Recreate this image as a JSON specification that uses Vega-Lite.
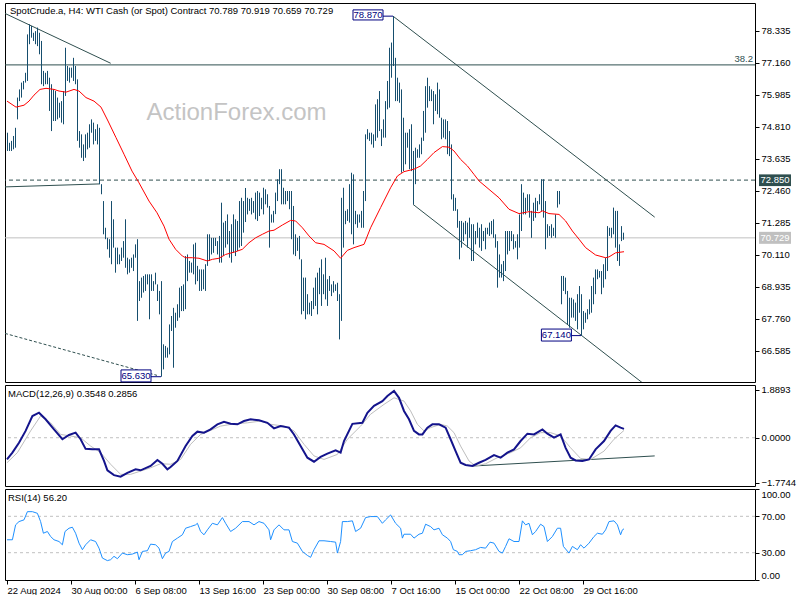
{
"$schema": "https://vega.github.io/schema/vega-lite/v6.json",
"padding": {"left": 2, "top": 2, "right": 0, "bottom": 0},
"background": "white",
"spacing": 3,
"bounds": "flush",
"config": {
  "view": {"stroke": "#000000", "strokeWidth": 1},
  "font": "Liberation Sans",
  "axis": {"domain": false, "grid": false, "labelFont": "Liberation Sans", "labelFontSize": 9.5, "labelColor": "#000000", "tickColor": "#000000", "tickSize": 4, "labelPadding": 2, "labelOverlap": false, "labelSeparation": 0}
},
"datasets": {
  "bars": [
{"k":0,"h":74.59,"l":73.92},{"k":1,"h":74.22,"l":73.92},{"k":2,"h":74.29,"l":73.92},{"k":3,"h":74.47,"l":73.98},{"k":4,"h":74.77,"l":74.04},
{"k":5,"h":75.88,"l":75.08},{"k":6,"h":76.18,"l":75.75},{"k":7,"h":76.43,"l":75.88},{"k":8,"h":76.49,"l":76.18},{"k":9,"h":76.79,"l":76.43},
{"k":10,"h":78.20,"l":76.49},{"k":11,"h":78.57,"l":77.84},{"k":12,"h":78.51,"l":78.08},{"k":13,"h":78.26,"l":77.96},{"k":14,"h":78.32,"l":77.84},
{"k":15,"h":78.45,"l":77.77},{"k":16,"h":78.26,"l":77.47},{"k":17,"h":77.96,"l":76.37},{"k":18,"h":76.86,"l":76.30},{"k":19,"h":76.79,"l":76.37},
{"k":20,"h":76.86,"l":76.37},{"k":21,"h":76.61,"l":75.39},{"k":22,"h":76.37,"l":74.65},{"k":23,"h":76.18,"l":75.02},{"k":24,"h":76.12,"l":75.02},
{"k":25,"h":75.88,"l":75.08},{"k":26,"h":75.69,"l":75.14},{"k":27,"h":75.75,"l":74.96},{"k":28,"h":76.12,"l":74.90},{"k":29,"h":77.71,"l":75.94},
{"k":30,"h":77.04,"l":76.49},{"k":31,"h":76.98,"l":76.43},{"k":32,"h":76.98,"l":76.61},{"k":33,"h":77.34,"l":76.49},{"k":34,"h":77.04,"l":76.37},
{"k":35,"h":76.55,"l":74.29},{"k":36,"h":74.65,"l":74.04},{"k":37,"h":74.53,"l":73.67},{"k":38,"h":74.16,"l":73.55},{"k":39,"h":74.53,"l":73.67},
{"k":40,"h":74.59,"l":73.98},{"k":41,"h":74.90,"l":74.04},{"k":42,"h":75.08,"l":74.59},{"k":43,"h":74.96,"l":74.16},{"k":44,"h":74.72,"l":74.29},
{"k":45,"h":74.90,"l":74.16},{"k":46,"h":74.77,"l":72.70},{"k":47,"h":72.70,"l":72.33},{"k":48,"h":72.08,"l":70.86},{"k":49,"h":71.10,"l":70.68},
{"k":50,"h":70.73,"l":70.31},{"k":51,"h":70.68,"l":70.00},{"k":52,"h":72.08,"l":69.76},{"k":53,"h":71.41,"l":70.37},{"k":54,"h":70.37,"l":69.45},
{"k":55,"h":70.37,"l":69.76},{"k":56,"h":70.12,"l":69.76},{"k":57,"h":70.37,"l":69.88},{"k":58,"h":70.61,"l":70.00},{"k":59,"h":71.41,"l":69.63},
{"k":60,"h":70.00,"l":69.39},{"k":61,"h":69.94,"l":69.45},{"k":62,"h":70.00,"l":69.63},{"k":63,"h":70.12,"l":69.51},{"k":64,"h":70.49,"l":70.00},
{"k":65,"h":70.68,"l":67.68},{"k":66,"h":69.14,"l":68.41},{"k":67,"h":69.27,"l":68.53},{"k":68,"h":69.33,"l":68.72},{"k":69,"h":69.39,"l":68.78},
{"k":70,"h":69.39,"l":69.02},{"k":71,"h":69.39,"l":67.74},{"k":72,"h":69.39,"l":68.78},{"k":73,"h":69.14,"l":68.78},{"k":74,"h":69.45,"l":69.02},
{"k":75,"h":69.02,"l":68.41},{"k":76,"h":68.78,"l":67.92},{"k":77,"h":69.14,"l":65.63},{"k":78,"h":66.82,"l":65.90},{"k":79,"h":66.76,"l":66.33},
{"k":80,"h":66.70,"l":66.33},{"k":81,"h":67.55,"l":66.45},{"k":82,"h":67.86,"l":67.31},{"k":83,"h":68.16,"l":65.96},{"k":84,"h":67.98,"l":67.43},
{"k":85,"h":68.29,"l":67.68},{"k":86,"h":68.90,"l":67.80},{"k":87,"h":68.96,"l":68.04},{"k":88,"h":69.02,"l":68.04},{"k":89,"h":70.06,"l":68.11},
{"k":90,"h":70.12,"l":69.14},{"k":91,"h":69.88,"l":69.45},{"k":92,"h":69.82,"l":69.45},{"k":93,"h":70.49,"l":69.39},{"k":94,"h":70.55,"l":69.02},
{"k":95,"h":69.70,"l":69.14},{"k":96,"h":69.57,"l":68.78},{"k":97,"h":69.57,"l":68.78},{"k":98,"h":69.57,"l":68.84},{"k":99,"h":69.76,"l":68.78},
{"k":100,"h":70.86,"l":69.70},{"k":101,"h":70.86,"l":69.88},{"k":102,"h":70.73,"l":70.12},{"k":103,"h":70.73,"l":70.18},{"k":104,"h":70.73,"l":70.43},
{"k":105,"h":70.61,"l":70.12},{"k":106,"h":70.80,"l":69.82},{"k":107,"h":72.02,"l":69.82},{"k":108,"h":71.29,"l":70.06},{"k":109,"h":71.35,"l":70.37},
{"k":110,"h":71.59,"l":70.49},{"k":111,"h":70.98,"l":70.00},{"k":112,"h":71.23,"l":69.82},{"k":113,"h":71.59,"l":70.18},{"k":114,"h":71.41,"l":70.06},
{"k":115,"h":71.35,"l":70.25},{"k":116,"h":72.08,"l":70.37},{"k":117,"h":72.20,"l":70.43},{"k":118,"h":72.08,"l":70.92},{"k":119,"h":72.56,"l":71.31},
{"k":120,"h":72.20,"l":71.59},{"k":121,"h":72.16,"l":71.72},{"k":122,"h":72.20,"l":71.59},{"k":123,"h":72.08,"l":71.65},{"k":124,"h":72.39,"l":71.41},
{"k":125,"h":72.45,"l":71.35},{"k":126,"h":72.39,"l":71.53},{"k":127,"h":72.20,"l":71.78},{"k":128,"h":72.57,"l":71.59},{"k":129,"h":72.51,"l":71.96},
{"k":130,"h":72.33,"l":71.84},{"k":131,"h":71.90,"l":70.37},{"k":132,"h":71.59,"l":71.29},{"k":133,"h":71.72,"l":71.29},{"k":134,"h":72.39,"l":71.60},
{"k":135,"h":72.88,"l":72.08},{"k":136,"h":73.25,"l":72.70},{"k":137,"h":73.25,"l":71.96},{"k":138,"h":72.57,"l":71.96},{"k":139,"h":72.45,"l":71.96},
{"k":140,"h":72.45,"l":72.08},{"k":141,"h":72.45,"l":71.78},{"k":142,"h":72.45,"l":70.68},{"k":143,"h":71.90,"l":70.12},{"k":144,"h":70.86,"l":70.06},
{"k":145,"h":70.73,"l":70.25},{"k":146,"h":70.80,"l":69.94},{"k":147,"h":69.94,"l":67.92},{"k":148,"h":69.27,"l":68.04},{"k":149,"h":69.27,"l":67.74},
{"k":150,"h":68.66,"l":67.92},{"k":151,"h":68.35,"l":67.92},{"k":152,"h":68.41,"l":67.86},{"k":153,"h":68.90,"l":68.11},{"k":154,"h":69.27,"l":68.23},
{"k":155,"h":69.45,"l":67.92},{"k":156,"h":69.63,"l":68.66},{"k":157,"h":69.94,"l":68.23},{"k":158,"h":69.39,"l":68.66},{"k":159,"h":70.00,"l":68.47},
{"k":160,"h":69.21,"l":68.23},{"k":161,"h":69.33,"l":68.78},{"k":162,"h":69.02,"l":68.59},{"k":163,"h":69.14,"l":68.72},{"k":164,"h":69.02,"l":68.78},
{"k":165,"h":69.08,"l":68.41},{"k":166,"h":68.66,"l":67.00},{"k":167,"h":72.20,"l":67.68},{"k":168,"h":72.57,"l":70.37},{"k":169,"h":71.72,"l":71.23},
{"k":170,"h":71.78,"l":71.35},{"k":171,"h":72.70,"l":71.29},{"k":172,"h":73.12,"l":70.86},{"k":173,"h":73.06,"l":70.49},{"k":174,"h":71.72,"l":71.23},
{"k":175,"h":71.59,"l":71.10},{"k":176,"h":71.59,"l":71.29},{"k":177,"h":71.72,"l":71.10},{"k":178,"h":72.45,"l":71.10},{"k":179,"h":74.53,"l":72.08},
{"k":180,"h":74.72,"l":74.35},{"k":181,"h":74.59,"l":74.29},{"k":182,"h":74.59,"l":74.16},{"k":183,"h":74.53,"l":74.04},{"k":184,"h":75.63,"l":74.29},
{"k":185,"h":75.82,"l":74.41},{"k":186,"h":76.12,"l":74.65},{"k":187,"h":74.72,"l":74.10},{"k":188,"h":75.08,"l":74.41},{"k":189,"h":75.75,"l":74.41},
{"k":190,"h":76.49,"l":75.45},{"k":191,"h":77.71,"l":75.51},{"k":192,"h":77.90,"l":76.61},{"k":193,"h":78.87,"l":77.04},{"k":194,"h":77.34,"l":75.75},
{"k":195,"h":76.61,"l":75.75},{"k":196,"h":76.43,"l":75.69},{"k":197,"h":76.18,"l":73.12},{"k":198,"h":75.14,"l":73.18},{"k":199,"h":74.59,"l":73.43},
{"k":200,"h":74.59,"l":74.04},{"k":201,"h":74.72,"l":73.25},{"k":202,"h":74.90,"l":73.18},{"k":203,"h":73.92,"l":71.96},{"k":204,"h":74.04,"l":72.70},
{"k":205,"h":73.98,"l":73.67},{"k":206,"h":74.16,"l":73.67},{"k":207,"h":74.41,"l":73.80},{"k":208,"h":75.39,"l":74.29},{"k":209,"h":76.30,"l":74.59},
{"k":210,"h":76.61,"l":75.51},{"k":211,"h":76.30,"l":75.75},{"k":212,"h":76.18,"l":75.75},{"k":213,"h":76.12,"l":74.90},{"k":214,"h":76.00,"l":75.39},
{"k":215,"h":76.43,"l":75.27},{"k":216,"h":76.18,"l":75.14},{"k":217,"h":75.14,"l":74.35},{"k":218,"h":75.08,"l":74.41},{"k":219,"h":75.08,"l":74.35},
{"k":220,"h":75.02,"l":73.80},{"k":221,"h":74.65,"l":73.73},{"k":222,"h":74.16,"l":72.14},{"k":223,"h":72.33,"l":71.72},{"k":224,"h":72.20,"l":71.72},
{"k":225,"h":71.78,"l":71.10},{"k":226,"h":71.35,"l":69.94},{"k":227,"h":71.35,"l":70.37},{"k":228,"h":71.29,"l":70.61},{"k":229,"h":71.35,"l":70.86},
{"k":230,"h":71.29,"l":70.37},{"k":231,"h":71.47,"l":70.73},{"k":232,"h":71.23,"l":69.88},{"k":233,"h":71.23,"l":69.88},{"k":234,"h":70.98,"l":70.49},
{"k":235,"h":71.29,"l":70.73},{"k":236,"h":71.10,"l":70.37},{"k":237,"h":71.23,"l":70.25},{"k":238,"h":70.98,"l":70.61},{"k":239,"h":71.10,"l":70.31},
{"k":240,"h":71.10,"l":70.86},{"k":241,"h":71.29,"l":70.80},{"k":242,"h":71.35,"l":70.86},{"k":243,"h":71.41,"l":70.73},{"k":244,"h":70.86,"l":70.37},
{"k":245,"h":70.61,"l":68.90},{"k":246,"h":70.12,"l":69.27},{"k":247,"h":69.76,"l":69.27},{"k":248,"h":69.88,"l":69.14},{"k":249,"h":70.98,"l":69.51},
{"k":250,"h":70.98,"l":70.12},{"k":251,"h":70.98,"l":70.25},{"k":252,"h":70.98,"l":70.61},{"k":253,"h":70.86,"l":70.31},{"k":254,"h":70.61,"l":70.37},
{"k":255,"h":70.86,"l":69.94},{"k":256,"h":71.59,"l":70.37},{"k":257,"h":72.70,"l":70.98},{"k":258,"h":72.39,"l":71.59},{"k":259,"h":72.20,"l":71.59},
{"k":260,"h":72.33,"l":71.72},{"k":261,"h":72.33,"l":71.47},{"k":262,"h":71.72,"l":70.73},{"k":263,"h":72.02,"l":71.35},{"k":264,"h":72.20,"l":71.47},
{"k":265,"h":72.08,"l":71.72},{"k":266,"h":72.33,"l":71.96},{"k":267,"h":72.88,"l":71.72},{"k":268,"h":72.88,"l":71.47},{"k":269,"h":72.08,"l":70.31},
{"k":270,"h":71.23,"l":70.73},{"k":271,"h":71.16,"l":70.80},{"k":272,"h":71.23,"l":70.73},{"k":273,"h":71.10,"l":70.80},{"k":274,"h":71.59,"l":70.73},
{"k":275,"h":72.45,"l":71.84},{"k":276,"h":72.45,"l":71.96},{"k":277,"h":69.33,"l":68.29},{"k":278,"h":69.33,"l":68.78},{"k":279,"h":69.27,"l":68.66},
{"k":280,"h":68.78,"l":67.55},{"k":281,"h":68.53,"l":67.43},{"k":282,"h":68.53,"l":67.80},{"k":283,"h":68.47,"l":67.80},{"k":284,"h":68.35,"l":67.68},
{"k":285,"h":68.66,"l":67.37},{"k":286,"h":68.96,"l":67.98},{"k":287,"h":68.66,"l":67.14},{"k":288,"h":68.04,"l":67.37},{"k":289,"h":67.98,"l":67.61},
{"k":290,"h":68.11,"l":67.74},{"k":291,"h":68.47,"l":67.92},{"k":292,"h":68.96,"l":67.98},{"k":293,"h":69.27,"l":68.29},{"k":294,"h":69.57,"l":68.66},
{"k":295,"h":69.57,"l":69.21},{"k":296,"h":69.51,"l":69.27},{"k":297,"h":69.51,"l":68.66},{"k":298,"h":69.76,"l":68.90},{"k":299,"h":70.00,"l":69.21},
{"k":300,"h":71.16,"l":69.51},{"k":301,"h":71.10,"l":70.80},{"k":302,"h":71.10,"l":70.73},{"k":303,"h":71.84,"l":70.86},{"k":304,"h":71.72,"l":70.37},
{"k":305,"h":71.72,"l":69.88},{"k":306,"h":70.49,"l":69.70},{"k":307,"h":71.16,"l":70.61},{"k":308,"h":70.919,"l":70.659}
  ],
  "ma": [
{"k":0,"v":75.75},{"k":4.5,"v":75.53},{"k":8.5,"v":75.60},{"k":11,"v":75.75},{"k":13.5,"v":75.97},{"k":16.5,"v":76.18},{"k":19.5,"v":76.22},{"k":23.5,"v":76.18},{"k":26,"v":76.12},{"k":29.5,"v":76.08},{"k":33.5,"v":76.18},{"k":36,"v":76.12},{"k":39.5,"v":75.88},{"k":43.5,"v":75.75},{"k":47,"v":75.53},{"k":50.5,"v":75.02},{"k":54.5,"v":74.41},{"k":58.5,"v":73.80},{"k":62.5,"v":73.18},{"k":66,"v":72.75},{"k":71,"v":72.08},{"k":75,"v":71.65},{"k":78.5,"v":71.16},{"k":81,"v":70.68},{"k":84.3,"v":70.31},{"k":87.7,"v":70.06},{"k":89.3,"v":70.00},{"k":92.7,"v":70.00},{"k":96,"v":69.98},{"k":100.2,"v":69.88},{"k":102.7,"v":69.94},{"k":106,"v":69.98},{"k":109.3,"v":70.12},{"k":114.3,"v":70.22},{"k":117.7,"v":70.31},{"k":121,"v":70.55},{"k":124.3,"v":70.73},{"k":127.7,"v":70.86},{"k":131,"v":70.98},{"k":133.5,"v":71.01},{"k":137.7,"v":71.20},{"k":141.8,"v":71.37},{"k":144.3,"v":71.35},{"k":147.7,"v":71.10},{"k":151,"v":70.80},{"k":154.3,"v":70.55},{"k":158.5,"v":70.49},{"k":163.5,"v":70.25},{"k":166.8,"v":69.98},{"k":170.2,"v":70.27},{"k":173.5,"v":70.37},{"k":178.5,"v":70.49},{"k":181.8,"v":71.10},{"k":186.8,"v":71.84},{"k":191.8,"v":72.57},{"k":195.2,"v":73.00},{"k":198.5,"v":73.16},{"k":203.5,"v":73.25},{"k":206.8,"v":73.37},{"k":210.2,"v":73.61},{"k":213.5,"v":73.86},{"k":217.7,"v":74.08},{"k":221,"v":74.06},{"k":223.5,"v":73.92},{"k":226.8,"v":73.61},{"k":230.2,"v":73.37},{"k":233.5,"v":73.06},{"k":236,"v":72.82},{"k":241,"v":72.51},{"k":246,"v":72.20},{"k":251,"v":71.78},{"k":256,"v":71.62},{"k":261,"v":71.69},{"k":266,"v":71.65},{"k":267.7,"v":71.72},{"k":271,"v":71.62},{"k":276,"v":71.59},{"k":279.3,"v":71.35},{"k":282.7,"v":70.98},{"k":286,"v":70.68},{"k":289.3,"v":70.37},{"k":294.3,"v":70.10},{"k":299.3,"v":70.00},{"k":301,"v":70.03},{"k":304.3,"v":70.18},{"k":308.5,"v":70.22}
  ],
  "macd": [
{"k":0,"m":-0.86},{"k":2.7,"m":-0.59},{"k":6,"m":-0.20},{"k":9.3,"m":0.27},{"k":12.7,"m":0.86},{"k":16,"m":0.99},{"k":19.3,"m":0.73},{"k":23.5,"m":0.33},{"k":27.7,"m":-0.06},{"k":31,"m":0.11},{"k":34.3,"m":0.20},{"k":36.8,"m":-0.06},{"k":39.3,"m":-0.44},{"k":42.7,"m":-0.46},{"k":46,"m":-0.46},{"k":48.5,"m":-0.92},{"k":50.2,"m":-1.29},{"k":53.5,"m":-1.48},{"k":56.8,"m":-1.54},{"k":60.2,"m":-1.39},{"k":64.3,"m":-1.25},{"k":66.8,"m":-1.29},{"k":71.8,"m":-1.12},{"k":75.2,"m":-0.88},{"k":77.7,"m":-1.03},{"k":80.2,"m":-1.25},{"k":81.8,"m":-1.16},{"k":85.2,"m":-0.92},{"k":89.3,"m":-0.33},{"k":92.7,"m":0.07},{"k":95.2,"m":0.24},{"k":98.5,"m":0.20},{"k":101.8,"m":0.33},{"k":105.2,"m":0.53},{"k":108.5,"m":0.63},{"k":111.8,"m":0.55},{"k":115.2,"m":0.53},{"k":118.5,"m":0.66},{"k":121.8,"m":0.73},{"k":126,"m":0.69},{"k":130.2,"m":0.59},{"k":133.5,"m":0.37},{"k":136.8,"m":0.46},{"k":141,"m":0.40},{"k":143.5,"m":0.13},{"k":146.8,"m":-0.33},{"k":150.2,"m":-0.79},{"k":153.5,"m":-0.95},{"k":156.8,"m":-0.76},{"k":160.2,"m":-0.63},{"k":164.3,"m":-0.50},{"k":166.8,"m":-0.59},{"k":168.5,"m":-0.13},{"k":172.7,"m":0.55},{"k":177.7,"m":0.59},{"k":180.2,"m":0.99},{"k":183.5,"m":1.26},{"k":187.7,"m":1.45},{"k":190.2,"m":1.65},{"k":193.5,"m":1.85},{"k":196,"m":1.58},{"k":198.5,"m":1.06},{"k":201,"m":0.73},{"k":203.5,"m":0.27},{"k":206,"m":0.13},{"k":207.7,"m":0.13},{"k":210.2,"m":0.40},{"k":212.7,"m":0.53},{"k":216,"m":0.53},{"k":219.3,"m":0.40},{"k":221.8,"m":-0.06},{"k":224.3,"m":-0.53},{"k":226.8,"m":-0.99},{"k":229.3,"m":-1.08},{"k":232.7,"m":-1.12},{"k":236,"m":-0.99},{"k":239.3,"m":-0.88},{"k":243.5,"m":-0.69},{"k":246.8,"m":-0.79},{"k":250.2,"m":-0.59},{"k":253.5,"m":-0.46},{"k":256.8,"m":-0.13},{"k":260.2,"m":0.16},{"k":263.5,"m":0.13},{"k":267.7,"m":0.33},{"k":270.2,"m":0.16},{"k":273.5,"m":0.00},{"k":276.8,"m":0.13},{"k":279.3,"m":-0.40},{"k":281.8,"m":-0.79},{"k":284.3,"m":-0.90},{"k":287.7,"m":-0.92},{"k":291,"m":-0.86},{"k":294.3,"m":-0.46},{"k":298.5,"m":-0.13},{"k":301.8,"m":0.27},{"k":304.3,"m":0.49},{"k":306.8,"m":0.40},{"k":308.5,"m":0.35}
  ],
  "signal": [
{"k":0,"s":-0.99},{"k":5.2,"s":-0.59},{"k":11.8,"s":0.27},{"k":16.8,"s":0.86},{"k":21.8,"s":0.59},{"k":26.8,"s":0.13},{"k":31.8,"s":0.07},{"k":36.8,"s":0.00},{"k":41.8,"s":-0.33},{"k":46.8,"s":-0.59},{"k":51.8,"s":-1.05},{"k":56.8,"s":-1.45},{"k":61.8,"s":-1.45},{"k":66.8,"s":-1.32},{"k":71.8,"s":-1.19},{"k":76.8,"s":-1.03},{"k":81.8,"s":-1.05},{"k":86.8,"s":-0.86},{"k":91.8,"s":-0.26},{"k":96.8,"s":0.13},{"k":101.8,"s":0.29},{"k":106.8,"s":0.46},{"k":113.5,"s":0.55},{"k":120.2,"s":0.59},{"k":126.8,"s":0.66},{"k":131.8,"s":0.53},{"k":138.5,"s":0.46},{"k":143.5,"s":0.27},{"k":148.5,"s":-0.26},{"k":153.5,"s":-0.72},{"k":158.5,"s":-0.86},{"k":165.2,"s":-0.66},{"k":170.2,"s":-0.06},{"k":176.8,"s":0.46},{"k":181.8,"s":0.93},{"k":188.5,"s":1.32},{"k":193.5,"s":1.58},{"k":198.5,"s":1.45},{"k":201.8,"s":1.06},{"k":205.2,"s":0.53},{"k":208.5,"s":0.27},{"k":211.8,"s":0.40},{"k":216.8,"s":0.53},{"k":220.2,"s":0.46},{"k":223.5,"s":0.20},{"k":226.8,"s":-0.33},{"k":231,"s":-0.92},{"k":234.3,"s":-1.12},{"k":239.3,"s":-1.03},{"k":245.2,"s":-0.79},{"k":251.8,"s":-0.59},{"k":256.8,"s":-0.40},{"k":261.8,"s":0.00},{"k":266.8,"s":0.20},{"k":271.8,"s":0.20},{"k":276.8,"s":0.07},{"k":281.8,"s":-0.40},{"k":286.8,"s":-0.82},{"k":291.8,"s":-0.86},{"k":298.5,"s":-0.53},{"k":303.5,"s":-0.06},{"k":308.5,"s":0.29}
  ],
  "rsi": [
{"k":0,"r":44.2},{"k":2.7,"r":44.2},{"k":4.3,"r":60.6},{"k":6,"r":64.2},{"k":8.5,"r":66.1},{"k":10.2,"r":75.1},{"k":12.7,"r":75.1},{"k":15.2,"r":73.3},{"k":16.8,"r":64.2},{"k":18.2,"r":51.4},{"k":20.2,"r":53.3},{"k":21.8,"r":47.8},{"k":23.5,"r":44.2},{"k":26,"r":42.3},{"k":27.7,"r":38.7},{"k":29,"r":53.3},{"k":31,"r":56.9},{"k":32.7,"r":58.0},{"k":34.3,"r":51.4},{"k":36,"r":40.5},{"k":37.7,"r":33.3},{"k":39.3,"r":38.7},{"k":41.8,"r":44.2},{"k":44.3,"r":42.3},{"k":46,"r":35.0},{"k":47.7,"r":24.1},{"k":50.2,"r":21.3},{"k":51.8,"r":22.3},{"k":53.5,"r":26.0},{"k":55.2,"r":23.4},{"k":57.7,"r":29.6},{"k":60.2,"r":27.8},{"k":62.7,"r":28.5},{"k":65.2,"r":30.7},{"k":66,"r":22.3},{"k":67.7,"r":31.4},{"k":70.2,"r":32.2},{"k":71.8,"r":39.4},{"k":74.3,"r":38.7},{"k":76,"r":35.0},{"k":77.7,"r":23.4},{"k":79.3,"r":29.6},{"k":81,"r":31.4},{"k":82.7,"r":42.3},{"k":85.2,"r":46.0},{"k":87.7,"r":49.7},{"k":89.3,"r":56.9},{"k":91.8,"r":58.7},{"k":94.3,"r":60.6},{"k":95.2,"r":62.3},{"k":96.8,"r":53.3},{"k":98.5,"r":49.7},{"k":100.2,"r":55.1},{"k":102.7,"r":62.3},{"k":105.2,"r":60.6},{"k":107.7,"r":68.6},{"k":109.3,"r":62.3},{"k":111.8,"r":53.3},{"k":114.3,"r":56.9},{"k":117.7,"r":64.2},{"k":121,"r":64.2},{"k":123.5,"r":60.6},{"k":126,"r":64.2},{"k":128.5,"r":62.3},{"k":131,"r":55.1},{"k":131.8,"r":44.2},{"k":133.5,"r":55.1},{"k":136,"r":60.6},{"k":138.5,"r":55.1},{"k":141,"r":55.1},{"k":142.7,"r":42.3},{"k":145.2,"r":40.5},{"k":147.7,"r":31.4},{"k":150.2,"r":27.0},{"k":151.8,"r":24.9},{"k":153.5,"r":33.3},{"k":156,"r":43.1},{"k":158.5,"r":43.1},{"k":161.8,"r":42.3},{"k":164.3,"r":41.6},{"k":165.2,"r":29.6},{"k":166.8,"r":42.3},{"k":167.7,"r":64.2},{"k":170.2,"r":64.2},{"k":172.7,"r":65.0},{"k":174.3,"r":53.3},{"k":176.8,"r":56.9},{"k":179.3,"r":68.6},{"k":181.8,"r":69.7},{"k":185.2,"r":69.7},{"k":187.7,"r":62.3},{"k":189.3,"r":66.1},{"k":191.8,"r":71.5},{"k":194.3,"r":62.3},{"k":196.8,"r":56.9},{"k":197.7,"r":46.0},{"k":198.5,"r":50.3},{"k":201.8,"r":50.3},{"k":203.5,"r":46.0},{"k":206,"r":50.3},{"k":207.7,"r":51.4},{"k":209.3,"r":61.3},{"k":211.8,"r":58.7},{"k":213.5,"r":55.1},{"k":216,"r":56.9},{"k":217.7,"r":49.7},{"k":220.2,"r":46.0},{"k":221.8,"r":42.3},{"k":223.2,"r":33.3},{"k":225.2,"r":31.4},{"k":226,"r":27.8},{"k":227.7,"r":27.8},{"k":229.3,"r":31.4},{"k":231.8,"r":32.2},{"k":234.3,"r":33.3},{"k":236.8,"r":35.8},{"k":239.3,"r":35.0},{"k":241.5,"r":41.6},{"k":243.5,"r":40.5},{"k":246,"r":31.4},{"k":247.7,"r":29.6},{"k":249.3,"r":36.9},{"k":251,"r":45.3},{"k":253.5,"r":42.3},{"k":256,"r":42.3},{"k":257.7,"r":65.0},{"k":259.3,"r":60.6},{"k":261,"r":62.3},{"k":262.7,"r":49.7},{"k":264.3,"r":53.3},{"k":266.8,"r":61.3},{"k":268.5,"r":58.7},{"k":270.2,"r":42.3},{"k":272.7,"r":47.8},{"k":275.2,"r":56.9},{"k":276.8,"r":56.9},{"k":278.2,"r":36.9},{"k":281,"r":29.6},{"k":282.7,"r":36.9},{"k":285.2,"r":33.3},{"k":286.8,"r":38.7},{"k":288.5,"r":35.0},{"k":291,"r":40.5},{"k":293.5,"r":47.8},{"k":295.2,"r":51.4},{"k":297.7,"r":50.3},{"k":299.3,"r":55.1},{"k":301,"r":64.2},{"k":303.5,"r":65.0},{"k":305.2,"r":60.6},{"k":306.8,"r":49.7},{"k":307.7,"r":55.1},{"k":308.5,"r":56.2}
  ],
  "levels": [{"p":77.08,"g":"fib"},{"p":72.85,"g":"res"},{"p":70.729,"g":"last"}],
  "trend": [
    {"x1":-1,"y1":78.97,"x2":51.85,"y2":77.14,"d":0},
    {"x1":-1,"y1":72.60,"x2":46.35,"y2":72.71,"d":0},
    {"x1":-1,"y1":67.22,"x2":75,"y2":65.68,"d":1},
    {"x1":193,"y1":78.87,"x2":323.85,"y2":71.49,"d":0},
    {"x1":203,"y1":71.96,"x2":317.65,"y2":65.41,"d":0}
  ],
  "texts": [
    {"g":"title","k":1.5,"p":79.06,"t":"SpotCrude.a, H4:  WTI Cash (or Spot) Contract  70.789 70.919 70.659 70.729"},
    {"g":"wm","k":114.75,"p":75.04,"t":"ActionForex.com"},
    {"g":"fib","k":373,"p":77.31,"t":"38.2"}
  ],
  "boxes": [
    {"k1":173,"k2":188,"p1":78.73,"p2":79.10,"kc":180.5,"pc":78.91,"t":"78.870","c1":188,"c2":193,"cp":78.87},
    {"k1":57,"k2":72,"p1":65.44,"p2":65.88,"kc":64.5,"pc":65.66,"t":"65.630","c1":72,"c2":77,"cp":65.63},
    {"k1":267.2,"k2":282.2,"p1":66.94,"p2":67.38,"kc":274.7,"pc":67.16,"t":"67.140","c1":282.2,"c2":287,"cp":67.14}
  ],
  "tags": [
    {"k1":376,"k2":392,"p1":72.63,"p2":73.06,"kc":384,"pc":72.85,"t":"72.850","f":"#2F4F4F"},
    {"k1":376,"k2":392,"p1":70.51,"p2":70.95,"kc":384,"pc":70.73,"t":"70.729","f":"#C0C0C0"}
  ],
  "macdline": [{"x1":233,"y1":-1.12,"x2":323.85,"y2":-0.72}],
  "zero": [{"v":0}],
  "rsilev": [{"v":70},{"v":30}],
  "subtitles": [{"g":"macd","k":0.5,"v":1.73,"t":"MACD(12,26,9) 0.3548 0.2856"},{"g":"rsi","k":0.5,"v":90.4,"t":"RSI(14) 56.20"}]
},
"vconcat": [
  {
    "width": 750, "height": 379,
    "resolve": {"axis": {"x": "independent", "y": "independent"}},
    "layer": [
      {"data": {"name": "levels"}, "transform": [{"filter": "datum.g == 'fib'"}], "mark": {"type": "rule", "color": "#2F4F4F", "strokeWidth": 1}, "encoding": {"y": {"field": "p", "type": "quantitative", "axis": null}}},
      {"data": {"name": "levels"}, "transform": [{"filter": "datum.g == 'res'"}], "mark": {"type": "rule", "color": "#2F4F4F", "strokeWidth": 1, "strokeDash": [4, 3]}, "encoding": {"y": {"field": "p", "type": "quantitative", "axis": null}}},
      {"data": {"name": "levels"}, "transform": [{"filter": "datum.g == 'last'"}], "mark": {"type": "rule", "color": "#C0C0C0", "strokeWidth": 1}, "encoding": {"y": {"field": "p", "type": "quantitative", "axis": null}}},
      {"data": {"name": "trend"}, "transform": [{"filter": "datum.d == 0"}], "mark": {"type": "rule", "color": "#2F4F4F", "strokeWidth": 1, "clip": true},
       "encoding": {"x": {"field": "x1", "type": "quantitative", "axis": null}, "x2": {"field": "x2"}, "y": {"field": "y1", "type": "quantitative", "axis": null}, "y2": {"field": "y2"}}},
      {"data": {"name": "trend"}, "transform": [{"filter": "datum.d == 1"}], "mark": {"type": "rule", "color": "#2F4F4F", "strokeWidth": 1, "strokeDash": [3, 2], "clip": true},
       "encoding": {"x": {"field": "x1", "type": "quantitative", "axis": null}, "x2": {"field": "x2"}, "y": {"field": "y1", "type": "quantitative", "axis": null}, "y2": {"field": "y2"}}},
      {"data": {"name": "texts"}, "transform": [{"filter": "datum.g == 'wm'"}], "mark": {"type": "text", "font": "Liberation Sans", "fontSize": 24, "color": "#C4C4C4", "align": "center", "baseline": "alphabetic"},
       "encoding": {"x": {"field": "k", "type": "quantitative", "axis": null}, "y": {"field": "p", "type": "quantitative", "axis": null}, "text": {"field": "t"}}},
      {"data": {"name": "bars"}, "mark": {"type": "rule", "color": "#164E6E", "strokeWidth": 1, "xOffset": 0.5},
       "encoding": {
         "x": {"field": "k", "type": "quantitative", "scale": {"domain": [-1, 374], "nice": false, "zero": false}, "axis": null},
         "y": {"field": "l", "type": "quantitative", "scale": {"domain": [65.436, 79.353], "nice": false, "zero": false},
               "axis": {"orient": "right", "values": [66.585, 67.76, 68.935, 70.11, 71.285, 72.46, 73.635, 74.81, 75.985, 77.16, 78.335], "format": ".3f", "labelFlush": false, "labelOverlap": false, "labelBound": false, "title": null}},
         "y2": {"field": "h"}}},
      {"data": {"name": "ma"}, "mark": {"type": "line", "color": "#FF0000", "strokeWidth": 1},
       "encoding": {"x": {"field": "k", "type": "quantitative", "axis": null}, "y": {"field": "v", "type": "quantitative", "axis": null}}},
      {"data": {"name": "boxes"}, "mark": {"type": "rule", "color": "#000080", "strokeWidth": 1},
       "encoding": {"x": {"field": "c1", "type": "quantitative", "axis": null}, "x2": {"field": "c2"}, "y": {"field": "cp", "type": "quantitative", "axis": null}}},
      {"data": {"name": "boxes"}, "mark": {"type": "rect", "fill": "#FFFFFF", "stroke": "#000080", "strokeWidth": 1},
       "encoding": {"x": {"field": "k1", "type": "quantitative", "axis": null}, "x2": {"field": "k2"}, "y": {"field": "p1", "type": "quantitative", "axis": null}, "y2": {"field": "p2"}}},
      {"data": {"name": "boxes"}, "mark": {"type": "text", "font": "Liberation Sans", "fontSize": 9.5, "color": "#000080", "align": "center", "baseline": "middle"},
       "encoding": {"x": {"field": "kc", "type": "quantitative", "axis": null}, "y": {"field": "pc", "type": "quantitative", "axis": null}, "text": {"field": "t"}}},
      {"data": {"name": "texts"}, "transform": [{"filter": "datum.g == 'title'"}], "mark": {"type": "text", "font": "Liberation Sans", "fontSize": 9.5, "color": "#000000", "align": "left", "baseline": "middle"},
       "encoding": {"x": {"field": "k", "type": "quantitative", "axis": null}, "y": {"field": "p", "type": "quantitative", "axis": null}, "text": {"field": "t"}}},
      {"data": {"name": "texts"}, "transform": [{"filter": "datum.g == 'fib'"}], "mark": {"type": "text", "font": "Liberation Sans", "fontSize": 9.5, "color": "#2F4F4F", "align": "right", "baseline": "middle"},
       "encoding": {"x": {"field": "k", "type": "quantitative", "axis": null}, "y": {"field": "p", "type": "quantitative", "axis": null}, "text": {"field": "t"}}},
      {"data": {"name": "tags"}, "mark": {"type": "rect"},
       "encoding": {"x": {"field": "k1", "type": "quantitative", "axis": null}, "x2": {"field": "k2"}, "y": {"field": "p1", "type": "quantitative", "axis": null}, "y2": {"field": "p2"}, "color": {"field": "f", "type": "nominal", "scale": null}}},
      {"data": {"name": "tags"}, "mark": {"type": "text", "font": "Liberation Sans", "fontSize": 9.5, "color": "#FFFFFF", "align": "center", "baseline": "middle"},
       "encoding": {"x": {"field": "kc", "type": "quantitative", "axis": null}, "y": {"field": "pc", "type": "quantitative", "axis": null}, "text": {"field": "t"}}}
    ]
  },
  {
    "width": 750, "height": 101,
    "resolve": {"axis": {"x": "independent", "y": "independent"}},
    "layer": [
      {"data": {"name": "zero"}, "mark": {"type": "rule", "color": "#C0C0C0", "strokeWidth": 1, "strokeDash": [3, 3]},
       "encoding": {"y": {"field": "v", "type": "quantitative", "axis": null}}},
      {"data": {"name": "macdline"}, "mark": {"type": "rule", "color": "#2F4F4F", "strokeWidth": 1},
       "encoding": {"x": {"field": "x1", "type": "quantitative", "axis": null}, "x2": {"field": "x2"}, "y": {"field": "y1", "type": "quantitative", "axis": null}, "y2": {"field": "y2"}}},
      {"data": {"name": "signal"}, "mark": {"type": "line", "color": "#BEBEBE", "strokeWidth": 1},
       "encoding": {"x": {"field": "k", "type": "quantitative", "axis": null}, "y": {"field": "s", "type": "quantitative", "axis": null}}},
      {"data": {"name": "macd"}, "mark": {"type": "line", "color": "#14148C", "strokeWidth": 2},
       "encoding": {
         "x": {"field": "k", "type": "quantitative", "scale": {"domain": [-1, 374], "nice": false, "zero": false}, "axis": null},
         "y": {"field": "m", "type": "quantitative", "scale": {"domain": [-1.911, 2.087], "nice": false, "zero": false},
               "axis": {"orient": "right", "values": [1.8893, 0, -1.7744], "format": ".4f", "labelFlush": false, "labelOverlap": false, "labelBound": false, "title": null}}}},
      {"data": {"name": "subtitles"}, "transform": [{"filter": "datum.g == 'macd'"}], "mark": {"type": "text", "font": "Liberation Sans", "fontSize": 9.5, "color": "#000000", "align": "left", "baseline": "middle"},
       "encoding": {"x": {"field": "k", "type": "quantitative", "axis": null}, "y": {"field": "v", "type": "quantitative", "axis": null}, "text": {"field": "t"}}}
    ]
  },
  {
    "width": 750, "height": 91,
    "resolve": {"axis": {"x": "independent", "y": "independent"}},
    "layer": [
      {"data": {"name": "rsilev"}, "mark": {"type": "rule", "color": "#C0C0C0", "strokeWidth": 1, "strokeDash": [3, 3]},
       "encoding": {"y": {"field": "v", "type": "quantitative", "axis": null}}},
      {"data": {"name": "rsi"}, "mark": {"type": "line", "color": "#1E90FF", "strokeWidth": 1},
       "encoding": {
         "x": {"field": "k", "type": "quantitative", "scale": {"domain": [-1, 374], "nice": false, "zero": false},
               "axis": {"orient": "bottom", "values": [0, 32, 64, 96, 128, 160, 192, 224, 256, 288], "labelExpr": "['22 Aug 2024','30 Aug 00:00','6 Sep 08:00','13 Sep 16:00','23 Sep 00:00','30 Sep 08:00','7 Oct 16:00','15 Oct 00:00','22 Oct 08:00','29 Oct 16:00'][round(datum.value / 32)]", "labelAlign": "left", "labelPadding": 1, "labelFlush": false, "labelOverlap": false, "labelBound": false, "title": null}},
         "y": {"field": "r", "type": "quantitative", "scale": {"domain": [0, 100], "nice": false, "zero": false},
               "axis": {"orient": "right", "values": [100, 70, 30, 0], "format": ".2f", "labelFlush": true, "labelOverlap": false, "labelBound": false, "title": null}}}},
      {"data": {"name": "subtitles"}, "transform": [{"filter": "datum.g == 'rsi'"}], "mark": {"type": "text", "font": "Liberation Sans", "fontSize": 9.5, "color": "#000000", "align": "left", "baseline": "middle"},
       "encoding": {"x": {"field": "k", "type": "quantitative", "axis": null}, "y": {"field": "v", "type": "quantitative", "axis": null}, "text": {"field": "t"}}}
    ]
  }
]
}
